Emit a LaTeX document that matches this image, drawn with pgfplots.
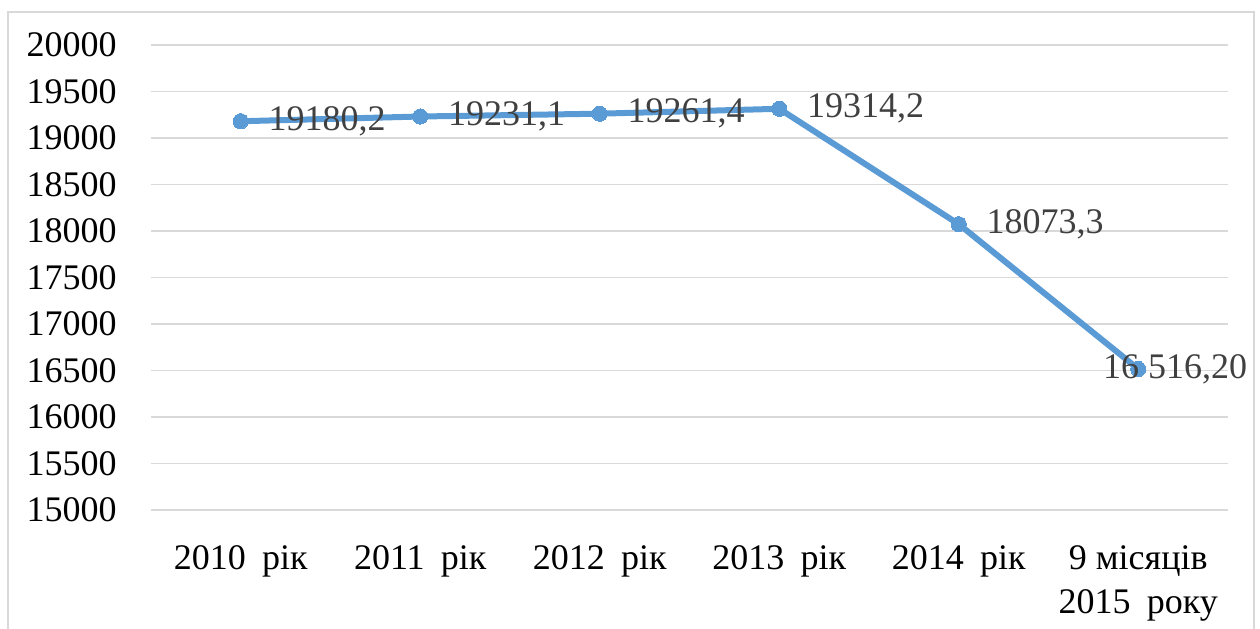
\documentclass[border=0pt]{standalone}
\usepackage{pgfplots}
\pgfplotsset{compat=1.18}
\usepackage{fontspec}
\setmainfont{Liberation Serif}
\newfontfamily\lser{Liberation Serif}
\definecolor{linecol}{HTML}{5B9BD5}
\definecolor{gridcol}{HTML}{D9D9D9}
\definecolor{labcol}{HTML}{404040}
\begin{document}
\begin{tikzpicture}
\useasboundingbox (-75.5pt,-59pt) rectangle (554.5pt,255pt);
% chart frame
\draw[gridcol, line width=0.8pt] (-71.5pt,-70pt) -- (-71.5pt,249pt) -- (551.5pt,249pt) -- (551.5pt,-70pt);
\begin{axis}[
    at={(0pt,0pt)}, anchor=south west,
    scale only axis,
    width=538.5pt, height=232.5pt,
    xmin=-0.5, xmax=5.5,
    ymin=15000, ymax=20000,
    ytick distance=500,
    scaled y ticks=false,
    xtick={0,1,2,3,4,5},
    xticklabels={2010\hspace{0.45em}рік, 2011\hspace{0.45em}рік, 2012\hspace{0.45em}рік, 2013\hspace{0.45em}рік, 2014\hspace{0.45em}рік, 9 місяців\\2015\hspace{0.45em}року},
    axis line style={draw=none},
    major tick style={draw=none},
    ymajorgrids,
    grid style={gridcol, line width=0.8pt},
    /pgf/number format/assume math mode=true,
    /pgf/number format/1000 sep={},
    tick label style={font=\lser\fontsize{18}{22}\selectfont, text=black},
    xticklabel style={anchor=north, inner sep=0pt, yshift=-17.5pt, align=center},
    yticklabel style={anchor=east, inner sep=0pt, xshift=-17pt},
    clip=false,
    nodes near coords,
    point meta=explicit symbolic,
    nodes near coords style={font=\lser\fontsize{18}{22}\selectfont, text=labcol, anchor=west, inner sep=0pt},
  ]
  \addplot[color=linecol, line width=3pt, mark=*, mark size=3.8pt,
      mark options={fill=linecol, draw=linecol, line width=0pt},
      visualization depends on={value \thisrow{dx} \as \dx},
      nodes near coords style={xshift=\dx}]
    table[meta=lab, row sep=\\] {
      x y lab dx\\
      0 19180.2 {19180,2} 14pt\\
      1 19231.1 {19231,1} 14pt\\
      2 19261.4 {19261,4} 14pt\\
      3 19314.2 {19314,2} 14pt\\
      4 18073.3 {18073,3} 14pt\\
      5 16516.2 {16\hspace{0.25em}516,20} -17.5pt\\
    };
\end{axis}
\end{tikzpicture}
\end{document}
